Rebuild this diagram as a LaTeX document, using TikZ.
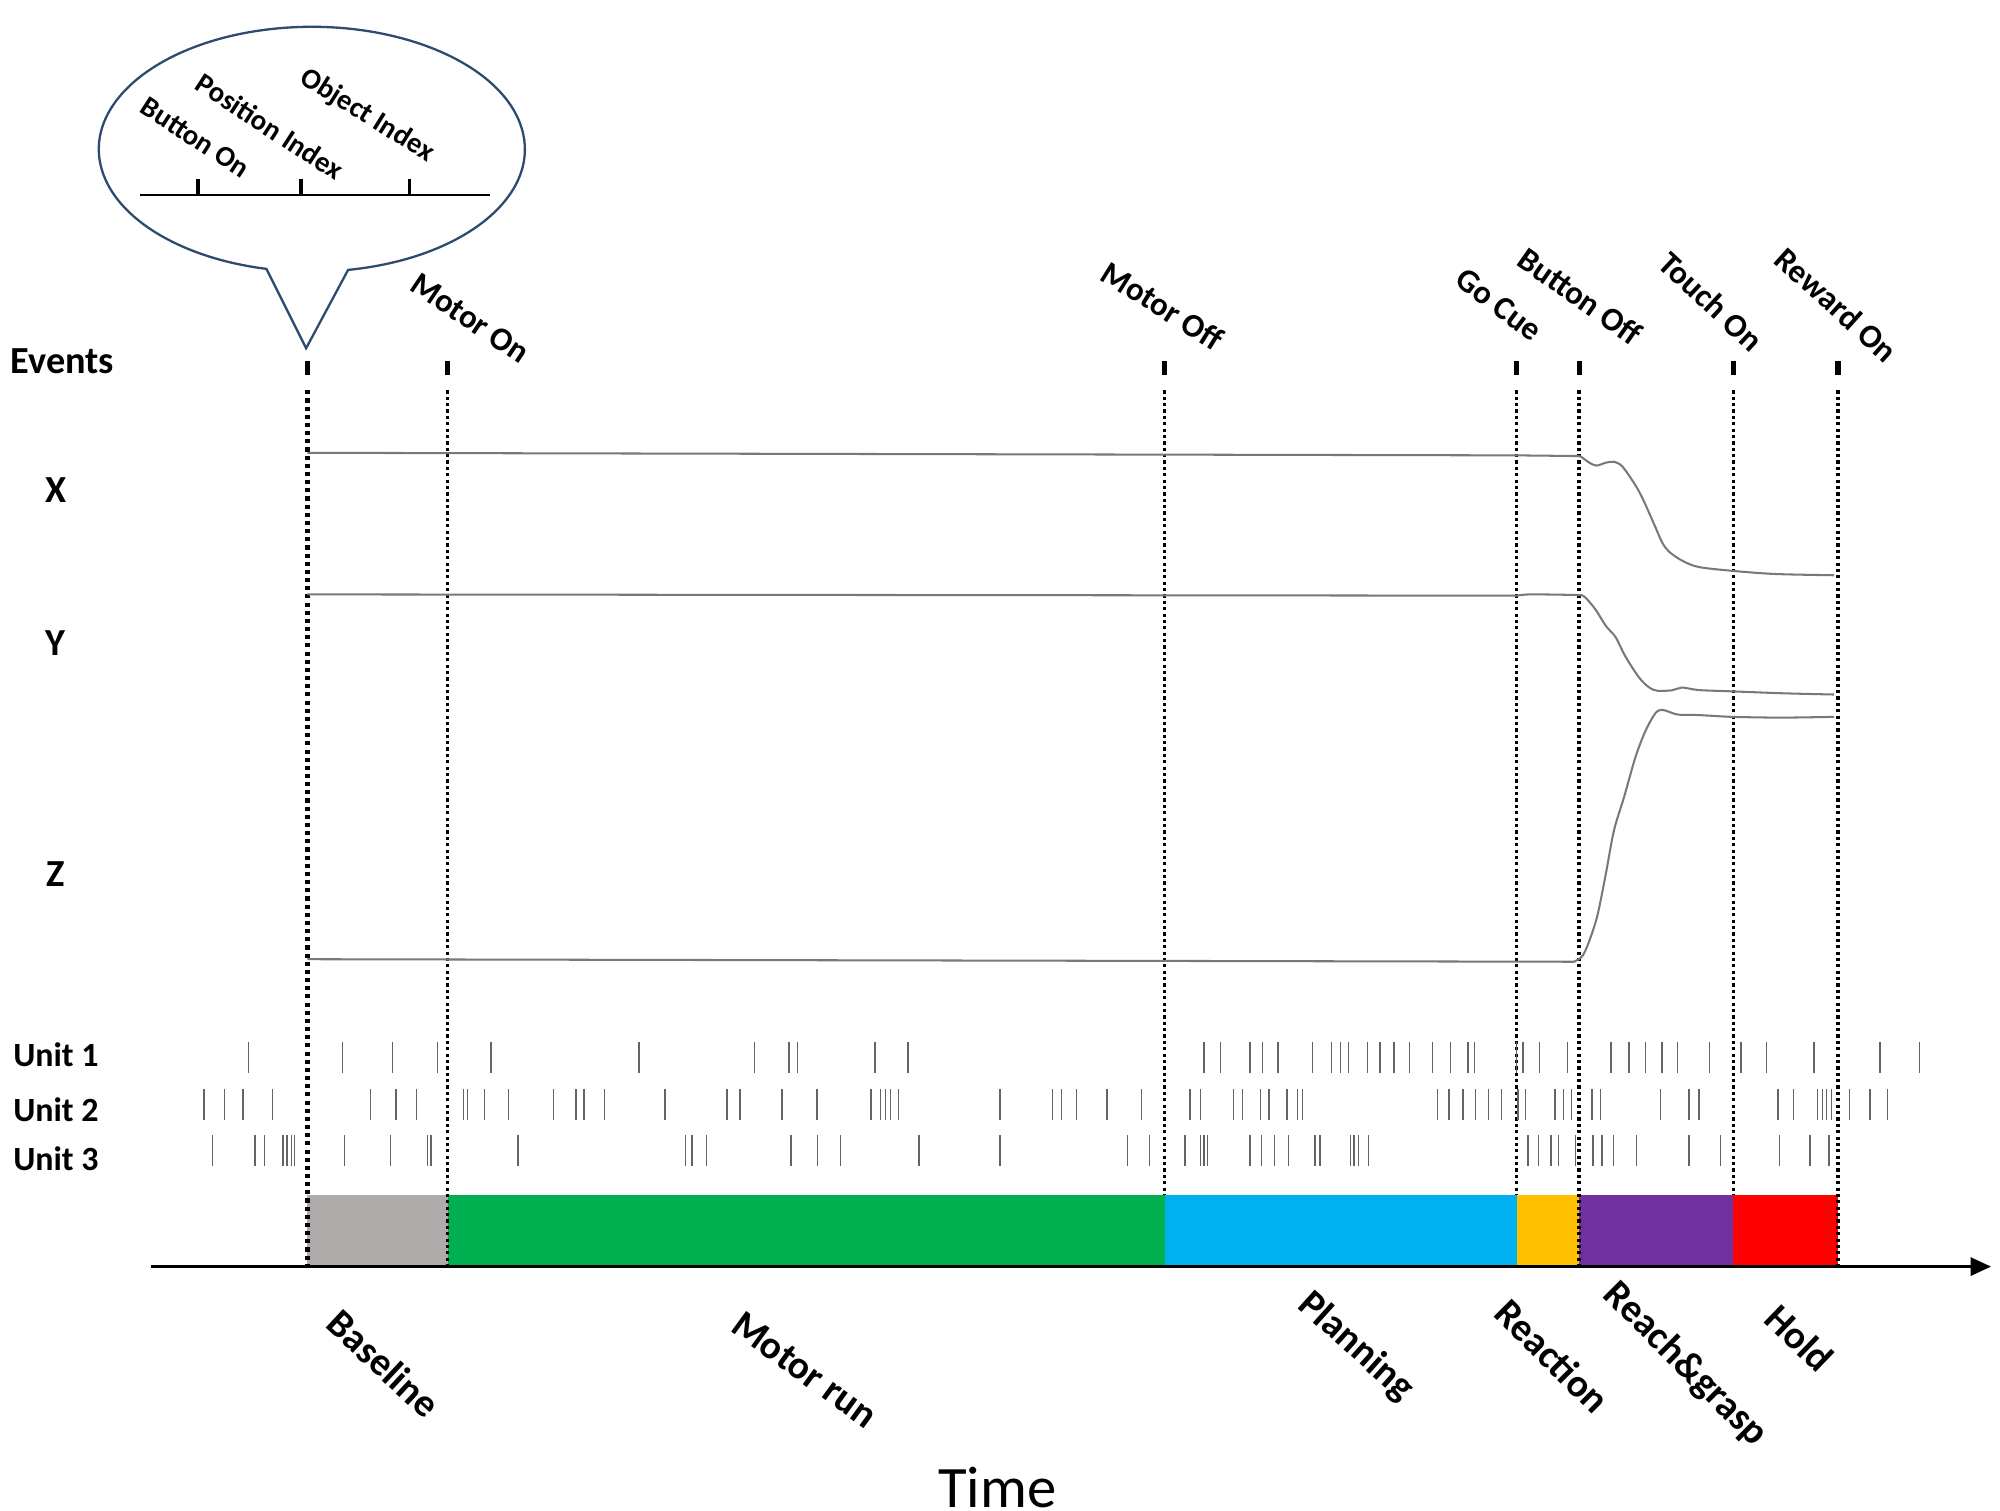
\documentclass[tikz,border=0pt]{standalone}
\usepackage{fontspec}
\setmainfont{Carlito}
\usetikzlibrary{arrows.meta}
\definecolor{phGray}{HTML}{AFABAB}
\definecolor{phGreen}{HTML}{00B050}
\definecolor{phBlue}{HTML}{00B0F0}
\definecolor{phOrange}{HTML}{FFC000}
\definecolor{phPurple}{HTML}{7030A0}
\definecolor{phRed}{HTML}{FF0000}
\definecolor{bubbleCol}{RGB}{45,75,110}
\definecolor{traceCol}{RGB}{120,120,120}
\definecolor{spikeCol}{RGB}{100,100,100}
\begin{document}
\begin{tikzpicture}[x=0.5pt,y=-0.5pt,
  evlabel/.style={font=\fontsize{12.9}{15}\selectfont\bfseries, inner sep=0pt},
  bublabel/.style={font=\fontsize{11.3}{13}\selectfont\bfseries, inner sep=0pt},
  phlabel/.style={font=\fontsize{15.4}{18}\selectfont\bfseries, inner sep=0pt},
  rowlabel/.style={font=\fontsize{15}{18}\selectfont\bfseries, inner sep=0pt, anchor=base west},
  unitlabel/.style={font=\fontsize{13.3}{16}\selectfont\bfseries, inner sep=0pt, anchor=base west},
  evtick/.style={line width=2pt},
  bubtick/.style={line width=1.5pt},
  evline/.style={line width=1.35pt, dash pattern=on 1.25pt off 1.25pt},
  evlinebold/.style={line width=1.8pt, dash pattern=on 1.6pt off 1.6pt},
  trace/.style={traceCol, line width=0.8pt, line join=round},
  spike/.style={spikeCol, line width=0.55pt}
]
\useasboundingbox (0,0) rectangle (1568,1184);

% ---------- bubble ----------
\draw[bubbleCol, line width=0.9pt, line join=miter]
  (272.9,211.6) arc[start angle=80.2, end angle=-257.7, x radius=167, y radius=96]
  -- (240,273) coordinate (tip) -- cycle;
\coordinate (bl0) at (110,153);
\coordinate (bl1) at (384,153);
\draw[line width=0.9pt] (bl0) -- (bl1);
\foreach \bx in {155,236,321}{
  \draw[bubtick] (\bx,153) -- (\bx,140);
}
\node[bublabel, rotate=-33] (bButtonOn) at (153,107.7) {Button On};
\node[bublabel, rotate=-33] (bPosIdx) at (211.8,99.2) {Position Index};
\node[bublabel, rotate=-32] (bObjIdx) at (287.9,90.7) {Object Index};

% ---------- row labels ----------
\node[rowlabel] (events) at (8,293) {Events};
\node[rowlabel] (lx) at (35,394) {X};
\node[rowlabel] (ly) at (35,514) {Y};
\node[rowlabel] (lz) at (36,695) {Z};
\node[unitlabel] (u1) at (10,836) {Unit 1};
\node[unitlabel] (u2) at (10,879) {Unit 2};
\node[unitlabel] (u3) at (10,918) {Unit 3};

% ---------- event labels ----------
\node[evlabel, rotate=-34] (lMotorOn) at (368.5,249.6) {Motor On};
\node[evlabel, rotate=-32] (lMotorOff) at (911.4,239.7) {Motor Off};
\node[evlabel, rotate=-37] (lGoCue) at (1175.3,239) {Go Cue};
\node[evlabel, rotate=-35] (lButtonOff) at (1238.9,232.3) {Button Off};
\node[evlabel, rotate=-43] (lTouchOn) at (1341.6,236.3) {Touch On};
\node[evlabel, rotate=-42] (lRewardOn) at (1439.7,239) {Reward On};

% ---------- event ticks ----------
\foreach \ex in {241,351,913,1189,1238,1359,1441}{
  \draw[evtick] (\ex,283) -- (\ex,294);
}

% ---------- phase bars ----------
\fill[phGray]   (241,937) rectangle (351,992);
\fill[phGreen]  (351,937) rectangle (913,992);
\fill[phBlue]   (913,937) rectangle (1189,992);
\fill[phOrange] (1189,937) rectangle (1238,992);
\fill[phPurple] (1238,937) rectangle (1359,992);
\fill[phRed]    (1359,937) rectangle (1441,992);

% ---------- dotted event lines ----------
\coordinate (e1t) at (241,306);  \coordinate (e1b) at (241,993);
\coordinate (e2t) at (351,306);  \coordinate (e2b) at (351,993);
\coordinate (e3t) at (913,306);  \coordinate (e3b) at (913,937);
\coordinate (e4t) at (1189,306); \coordinate (e4b) at (1189,937);
\coordinate (e5t) at (1238,306); \coordinate (e5b) at (1238,993);
\coordinate (e6t) at (1359,306); \coordinate (e6b) at (1359,937);
\coordinate (e7t) at (1441,306); \coordinate (e7b) at (1441,993);
\draw[evlinebold] (e1t) -- (e1b);
\draw[evline] (e2t) -- (e2b);
\draw[evline] (e3t) -- (e3b);
\draw[evline] (e4t) -- (e4b);
\draw[evline] (e5t) -- (e5b);
\draw[evline] (e6t) -- (e6b);
\draw[evline] (e7t) -- (e7b);

% ---------- traces ----------
\draw[trace] (241,355) -- (1189,357) -- (1234,357.5)
  plot[smooth, tension=0.5] coordinates {(1234,357.5) (1239.3,358) (1245.8,362.6) (1251.5,365) (1258.8,362.8) (1265.3,362) (1271.8,365.6) (1281,378.6) (1287.5,390.2) (1296.6,410.5) (1303,425) (1308.3,432.3) (1318.7,439.5) (1331.7,444.5) (1357.8,447.5) (1391.6,450) (1438,451)};
\draw[trace] (241,466) -- (1189,467)
  plot[smooth, tension=0.5] coordinates {(1189,467) (1200,466) (1235.4,466.5) (1241.9,467.6) (1251,478) (1258.8,490.5) (1266.6,499.5) (1274.5,515) (1284.9,531) (1292.7,538.8) (1299.2,541.5) (1310.9,541.2) (1318.7,539) (1331.7,541) (1357.8,542) (1396.8,543.5) (1438,544.5)};
\draw[trace] (241,752) -- (1234,754)
  plot[smooth, tension=0.5] coordinates {(1234,754) (1240.6,749.5) (1245.8,738.2) (1252.3,717.9) (1258.8,686) (1265.3,651.2) (1273.2,625.1) (1282.3,593.2) (1290.1,572.9) (1297.9,559) (1303.1,556.5) (1308.3,558) (1316.1,560.3) (1331.7,560.6) (1357.8,562) (1396.8,562.6) (1438,562)};

% ---------- spike rasters ----------
\foreach \sx in {195,268.5,307.5,343,385,501,591.5,618.5,625,686,712,944,957,980,990,1002,1029,1044,1051,1057,1072,1082,1093,1105,1123,1137,1151,1156,1189,1194,1207,1229,1263,1277,1290,1303,1315,1340,1365,1385,1422,1474,1505}{
  \draw[spike] (\sx,817) -- (\sx,841);
}
\foreach \sx in {160,176,190.5,213.5,290.5,310.5,326.5,363.5,366.5,380,398.5,434,451.5,458,474,521.5,570,580,613,640.5,683,690.5,694,698,704.5,784,825,832,844,868,895,933,941,967,974,988,995,1009,1017,1021,1127,1136,1147,1157,1167,1177,1190,1196,1219,1226,1232,1248,1255,1302,1324,1332,1394,1406,1425,1429,1432,1436,1450,1466,1480}{
  \draw[spike] (\sx,854) -- (\sx,878);
}
\foreach \sx in {166.5,200,207.5,222,225,228.5,231,270,306,335,338,406,537.5,542.5,554,620,641,659,720.5,784,884,901,929,941,944,946.5,980,989,999,1010,1031,1035,1059,1061.5,1065,1073,1198,1206,1216,1222,1235,1249,1256,1265,1283,1324,1349,1395,1419,1434}{
  \draw[spike] (\sx,890) -- (\sx,914);
}

% ---------- time axis ----------
\coordinate (ax0) at (118,993);
\coordinate (ax1) at (1561,993);
\draw[line width=1.3pt, -{Triangle[length=8pt,width=7pt]}] (ax0) -- (ax1);

% ---------- phase labels ----------
\node[phlabel, rotate=-43] (pBaseline) at (301,1069) {Baseline};
\node[phlabel, rotate=-36] (pMotorRun) at (631,1074) {Motor run};
\node[phlabel, rotate=-42] (pPlanning) at (1063,1056) {Planning};
\node[phlabel, rotate=-45] (pReaction) at (1217,1063) {Reaction};
\node[phlabel, rotate=-45] (pReach) at (1321,1070) {Reach\&grasp};
\node[phlabel, rotate=-44] (pHold) at (1411,1049) {Hold};

\node[font=\fontsize{23}{27}\selectfont, inner sep=0pt] (time) at (782,1166) {Time};
\end{tikzpicture}
\end{document}
